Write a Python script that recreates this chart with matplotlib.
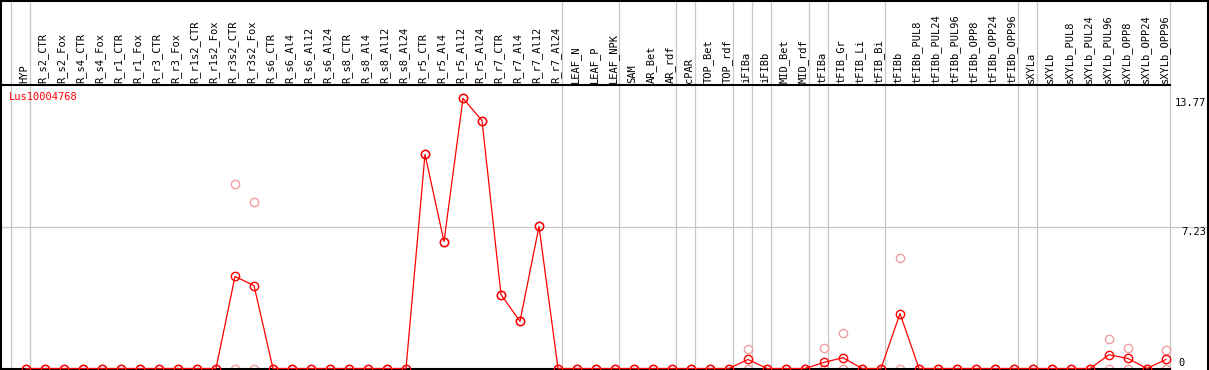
import numpy as np
import matplotlib
matplotlib.use("Agg")
import matplotlib.pyplot as plt
from matplotlib.lines import Line2D

# sample names (column headers)
samples = ["HYP",
           "R_s2_CTR", "R_s2_Fox", "R_s4_CTR", "R_s4_Fox", "R_r1_CTR", "R_r1_Fox",
           "R_r3_CTR", "R_r3_Fox", "R_r1s2_CTR", "R_r1s2_Fox", "R_r3s2_CTR", "R_r3s2_Fox",
           "R_s6_CTR", "R_s6_Al4", "R_s6_Al12", "R_s6_Al24",
           "R_s8_CTR", "R_s8_Al4", "R_s8_Al12", "R_s8_Al24",
           "R_r5_CTR", "R_r5_Al4", "R_r5_Al12", "R_r5_Al24",
           "R_r7_CTR", "R_r7_Al4", "R_r7_Al12", "R_r7_Al24",
           "LEAF_N", "LEAF_P", "LEAF_NPK", "SAM", "AR_Bet", "AR_rdf", "cPAR",
           "TOP_Bet", "TOP_rdf", "iFIBa", "iFIBb", "MID_Bet", "MID_rdf",
           "tFIBa", "tFIB_Gr", "tFIB_Li", "tFIB_Bi",
           "tFIBb", "tFIBb_PUL8", "tFIBb_PUL24", "tFIBb_PUL96",
           "tFIBb_OPP8", "tFIBb_OPP24", "tFIBb_OPP96",
           "sXYLa", "sXYLb", "sXYLb_PUL8", "sXYLb_PUL24", "sXYLb_PUL96",
           "sXYLb_OPP8", "sXYLb_OPP24", "sXYLb_OPP96"]

# mean expression
mean = [0,
        0, 0, 0, 0, 0, 0, 0, 0, 0, 0, 4.69, 4.23,
        0, 0, 0, 0, 0, 0, 0, 0,
        10.91, 6.47, 13.77, 12.64, 3.77, 2.40, 7.24, 0,
        0, 0, 0, 0, 0, 0, 0,
        0, 0, 0.46, 0, 0, 0,
        0.31, 0.55, 0, 0,
        2.80, 0, 0, 0, 0, 0, 0,
        0, 0, 0, 0, 0.70, 0.51, 0, 0.46]

# replicates (high / low)
rep_hi = [0,
          0, 0, 0, 0, 0, 0, 0, 0, 0, 0, 9.42, 8.50,
          0, 0, 0, 0, 0, 0, 0, 0,
          10.91, 6.47, 13.77, 12.64, 3.77, 2.40, 7.24, 0,
          0, 0, 0, 0, 0, 0, 0,
          0, 0, 1.00, 0, 0, 0,
          1.05, 1.82, 0, 0,
          5.64, 0, 0, 0, 0, 0, 0,
          0, 0, 0, 0, 1.51, 1.05, 0, 0.95]
rep_lo = [0,
          0, 0, 0, 0, 0, 0, 0, 0, 0, 0, 0, 0,
          0, 0, 0, 0, 0, 0, 0, 0,
          10.91, 6.47, 13.77, 12.64, 3.77, 2.40, 7.24, 0,
          0, 0, 0, 0, 0, 0, 0,
          0, 0, 0, 0, 0, 0,
          0, 0, 0, 0,
          0, 0, 0, 0, 0, 0, 0,
          0, 0, 0, 0, 0, 0, 0, 0]

# last column of each group (separator lines)
group_ends = [-1, 0, 28, 31, 34, 35, 37, 38, 39, 41, 42, 45, 52, 53, 60]
gene = "Lus10004768"

W, H = 1209, 370
fig = plt.figure(figsize=(W / 100, H / 100), dpi=100)
ax = fig.add_axes([1 / W, 1.5 / H, 1169 / W, 283.5 / H])

x = np.arange(len(samples))
ax.set_xlim((1 - 26) / 19, (1170 - 26) / 19)
ax.set_ylim(0, 283.5 / 19.62)

mono = "DejaVu Sans Mono"
gray = "#c8c8c8"
red = "#ff0000"
pink = "#f0a0a0"

top_ext = 368.5 / 283.5
for g in group_ends:
    ax.axvline(g + 4 / 19, ymin=0, ymax=top_ext, color=gray, lw=0.9, clip_on=False, zorder=1)
ax.axhline(7.23, xmin=0, xmax=(W - 1) / 1169, color=gray, lw=0.9, clip_on=False, zorder=1)

mk = dict(marker="o", ms=6, mew=1.0, fillstyle="none", ls="none", clip_on=False)
ax.plot(x, rep_hi, color=pink, zorder=2, **mk)
ax.plot(x, rep_lo, color=pink, zorder=2, **mk)
ax.plot(x, mean, color=red, lw=0.9, zorder=3, clip_on=False)
ax.plot(x, mean, color=red, zorder=4, **mk)

for i, name in enumerate(samples):
    ax.text(i - 0.1, 1 + 2 / 283.5, name, rotation=90, ha="center", va="bottom",
            transform=ax.get_xaxis_transform(), fontsize=7.5, family=mono)

ax.text(8 / 1169, 1 - 12 / 283.5, gene, color=red, fontsize=7.5, family=mono,
        ha="left", va="center", transform=ax.transAxes)

ytr = ax.get_yaxis_transform()
ax.text((1206 - 1) / 1169, 13.77, "13.77", ha="right", va="top", fontsize=7.5,
        family=mono, transform=ytr)
ax.text((1206 - 1) / 1169, 7.23, "7.23", ha="right", va="top", fontsize=7.5,
        family=mono, transform=ytr)
ax.text((1178 - 1) / 1169, 0, "0", ha="left", va="bottom", fontsize=7.5,
        family=mono, transform=ytr)

ax.set_xticks([])
ax.set_yticks([])
for s in ["left", "bottom", "top"]:
    ax.spines[s].set_linewidth(1.5)
    ax.spines[s].set_color("black")
ax.spines["right"].set_visible(False)
ax.plot([0, 0], [1, top_ext], color="black", lw=1.5, transform=ax.transAxes, clip_on=False)

# figure border top / right
fig.add_artist(Line2D([0, 1], [1 - 0.75 / H] * 2, color="black", lw=1.5))
fig.add_artist(Line2D([1 - 0.75 / W] * 2, [0, 1], color="black", lw=1.5))

fig.savefig("out.png", dpi=100)
